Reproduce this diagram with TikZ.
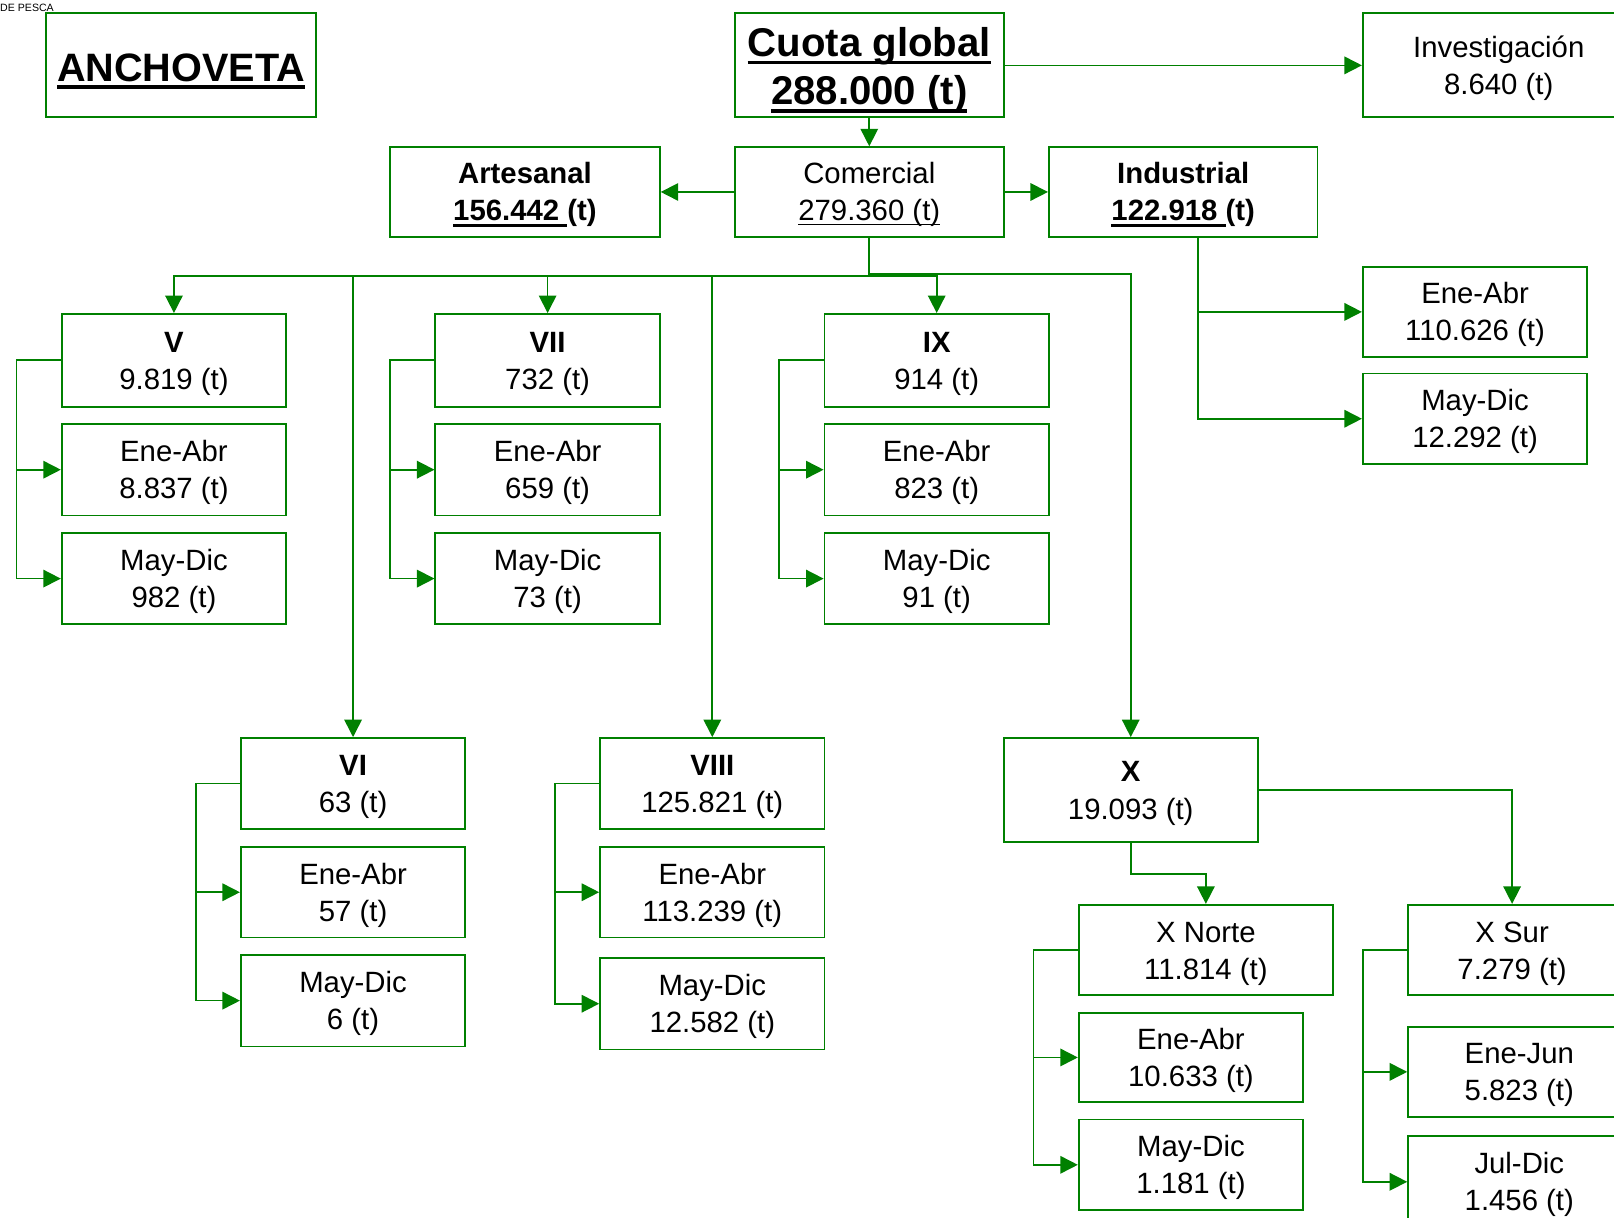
\documentclass[tikz,border=0pt]{standalone}
\usepackage{fontspec}
\setmainfont{Liberation Sans}
\usetikzlibrary{arrows.meta,positioning}
\definecolor{pescagreen}{RGB}{0,128,0}
\newsavebox{\ulbox}
\newcommand{\ulw}[2]{\leavevmode\sbox{\ulbox}{#2}\rlap{\rule[\dimexpr-0.1em-#1\relax]{\wd\ulbox}{#1}}\usebox{\ulbox}}

\begin{document}
\begin{tikzpicture}[
    x=1pt, y=-1pt,
    node distance=15pt,
    lower/.style={execute at begin node={\rule{0pt}{\dimexpr1.7\baselineskip+#1\relax}}},
    box/.style={rectangle, draw=pescagreen, line width=1.8pt, minimum width=218pt, minimum height=89pt, align=center, inner sep=0pt, font=\fontsize{28.5}{36}\selectfont, lower=1pt},
    bigbox/.style={box, minimum width=261pt, minimum height=101pt},
    midbox/.style={box, minimum width=261pt, minimum height=87pt},
    arrow/.style={-{Triangle[length=17pt,width=17pt]}, draw=pescagreen, line width=1.6pt}
]
\useasboundingbox (0,0) rectangle (1568,1183);

% top row
\node[anchor=west, inner sep=0pt, font=\fontsize{10.3}{11}\selectfont] (pesca) at (0,8) {DE PESCA};
\node[rectangle, draw=pescagreen, line width=1.8pt, minimum width=262pt, minimum height=101pt, inner sep=0pt, font=\fontsize{38.5}{44}\selectfont\bfseries] (anch) at (176,63.5) {\rule{0pt}{37.8pt}\ulw{3.5pt}{ANCHOVETA}};
\node[bigbox, font=\fontsize{39}{47}\selectfont\bfseries, lower=5pt] (cuota) at (844.5,63.5) {\ulw{3.5pt}{Cuota global}\\\ulw{3.5pt}{288.000 (t)}};
\node[bigbox, minimum width=264pt] (inv) at (1456,63.5) {Investigación\\8.640 (t)};

\node[midbox] (com) at (844.5,186.5) {Comercial\\\ulw{1.5pt}{279.360 (t)}};
\node[midbox, minimum width=262pt] (art) at (510,186.5) {\textbf{Artesanal}\\\textbf{\ulw{3pt}{156.442\ }(t)}};
\node[midbox] (ind) at (1149.5,186.5) {\textbf{Industrial}\\\textbf{\ulw{3pt}{122.918\ }(t)}};

% industrial
\node[box, minimum height=88pt] (ind-a) at (1433,303) {Ene-Abr\\110.626 (t)};
\node[box, minimum height=88pt, below=14pt of ind-a] (ind-b) {May-Dic\\12.292 (t)};

% regions, first row
\node[box, minimum height=90pt] (v) at (169,350) {\textbf{V}\\9.819 (t)};
\node[box, below=of v] (v-a) {Ene-Abr\\8.837 (t)};
\node[box, below=of v-a] (v-b) {May-Dic\\982 (t)};

\node[box, minimum height=90pt] (vii) at (532,350) {\textbf{VII}\\732 (t)};
\node[box, below=of vii] (vii-a) {Ene-Abr\\659 (t)};
\node[box, below=of vii-a] (vii-b) {May-Dic\\73 (t)};

\node[box, minimum height=90pt] (ix) at (910,350) {\textbf{IX}\\914 (t)};
\node[box, below=of ix] (ix-a) {Ene-Abr\\823 (t)};
\node[box, below=of ix-a] (ix-b) {May-Dic\\91 (t)};

% regions, second row
\node[box, minimum height=88pt] (vi) at (343,761) {\textbf{VI}\\63 (t)};
\node[box, minimum height=88pt, below=16pt of vi] (vi-a) {Ene-Abr\\57 (t)};
\node[box, below=of vi-a] (vi-b) {May-Dic\\6 (t)};

\node[box, minimum height=88pt] (viii) at (692,761) {\textbf{VIII}\\125.821 (t)};
\node[box, minimum height=88pt, below=16pt of viii] (viii-a) {Ene-Abr\\113.239 (t)};
\node[box, below=18pt of viii-a] (viii-b) {May-Dic\\12.582 (t)};

\node[box, minimum width=247pt, minimum height=101pt] (x) at (1098.5,767.5) {\textbf{X}\\19.093 (t)};
\node[box, minimum width=247pt, minimum height=88pt] (xn) at (1171.5,923) {X Norte\\11.814 (t)};
\node[box, minimum height=87pt, below=15pt of xn.south west, anchor=north west] (xn-a) {Ene-Abr\\10.633 (t)};
\node[box, minimum height=88pt, below=of xn-a] (xn-b) {May-Dic\\1.181 (t)};

\node[box, minimum width=202pt, minimum height=88pt] (xs) at (1469,923) {X Sur\\7.279 (t)};
\node[box, minimum width=216pt, minimum height=87pt, below=29pt of xs.south west, anchor=north west] (xs-a) {Ene-Jun\\5.823 (t)};
\node[box, minimum width=216pt, below=17pt of xs-a] (xs-b) {Jul-Dic\\1.456 (t)};

% connectors
\coordinate (bus) at (844.5,268);
\draw[arrow] (cuota) -- (inv);
\draw[arrow] (cuota) -- (com);
\draw[arrow] (com) -- (art);
\draw[arrow] (com) -- (ind);
\draw[arrow] ([xshift=14.5pt]ind.south) |- (ind-a.west);
\draw[arrow] ([xshift=14.5pt]ind.south) |- (ind-b.west);

\foreach \reg in {v,vii,ix,vi,viii}
    \draw[arrow] (com.south) -- (bus) -| (\reg.north);
\draw[arrow] (com.south) -- ([yshift=2pt]bus) -| (x.north);

\draw[arrow] (x.south) -- ++(0,30) -| (xn.north);
\draw[arrow] (x.east) -| (xs.north);

\foreach \reg in {v,vii,ix,vi,viii,xn,xs}{
    \draw[arrow] (\reg.west) -- ++(-43,0) |- (\reg-a.west);
    \draw[arrow] (\reg.west) -- ++(-43,0) |- (\reg-b.west);
}
\end{tikzpicture}
\end{document}
